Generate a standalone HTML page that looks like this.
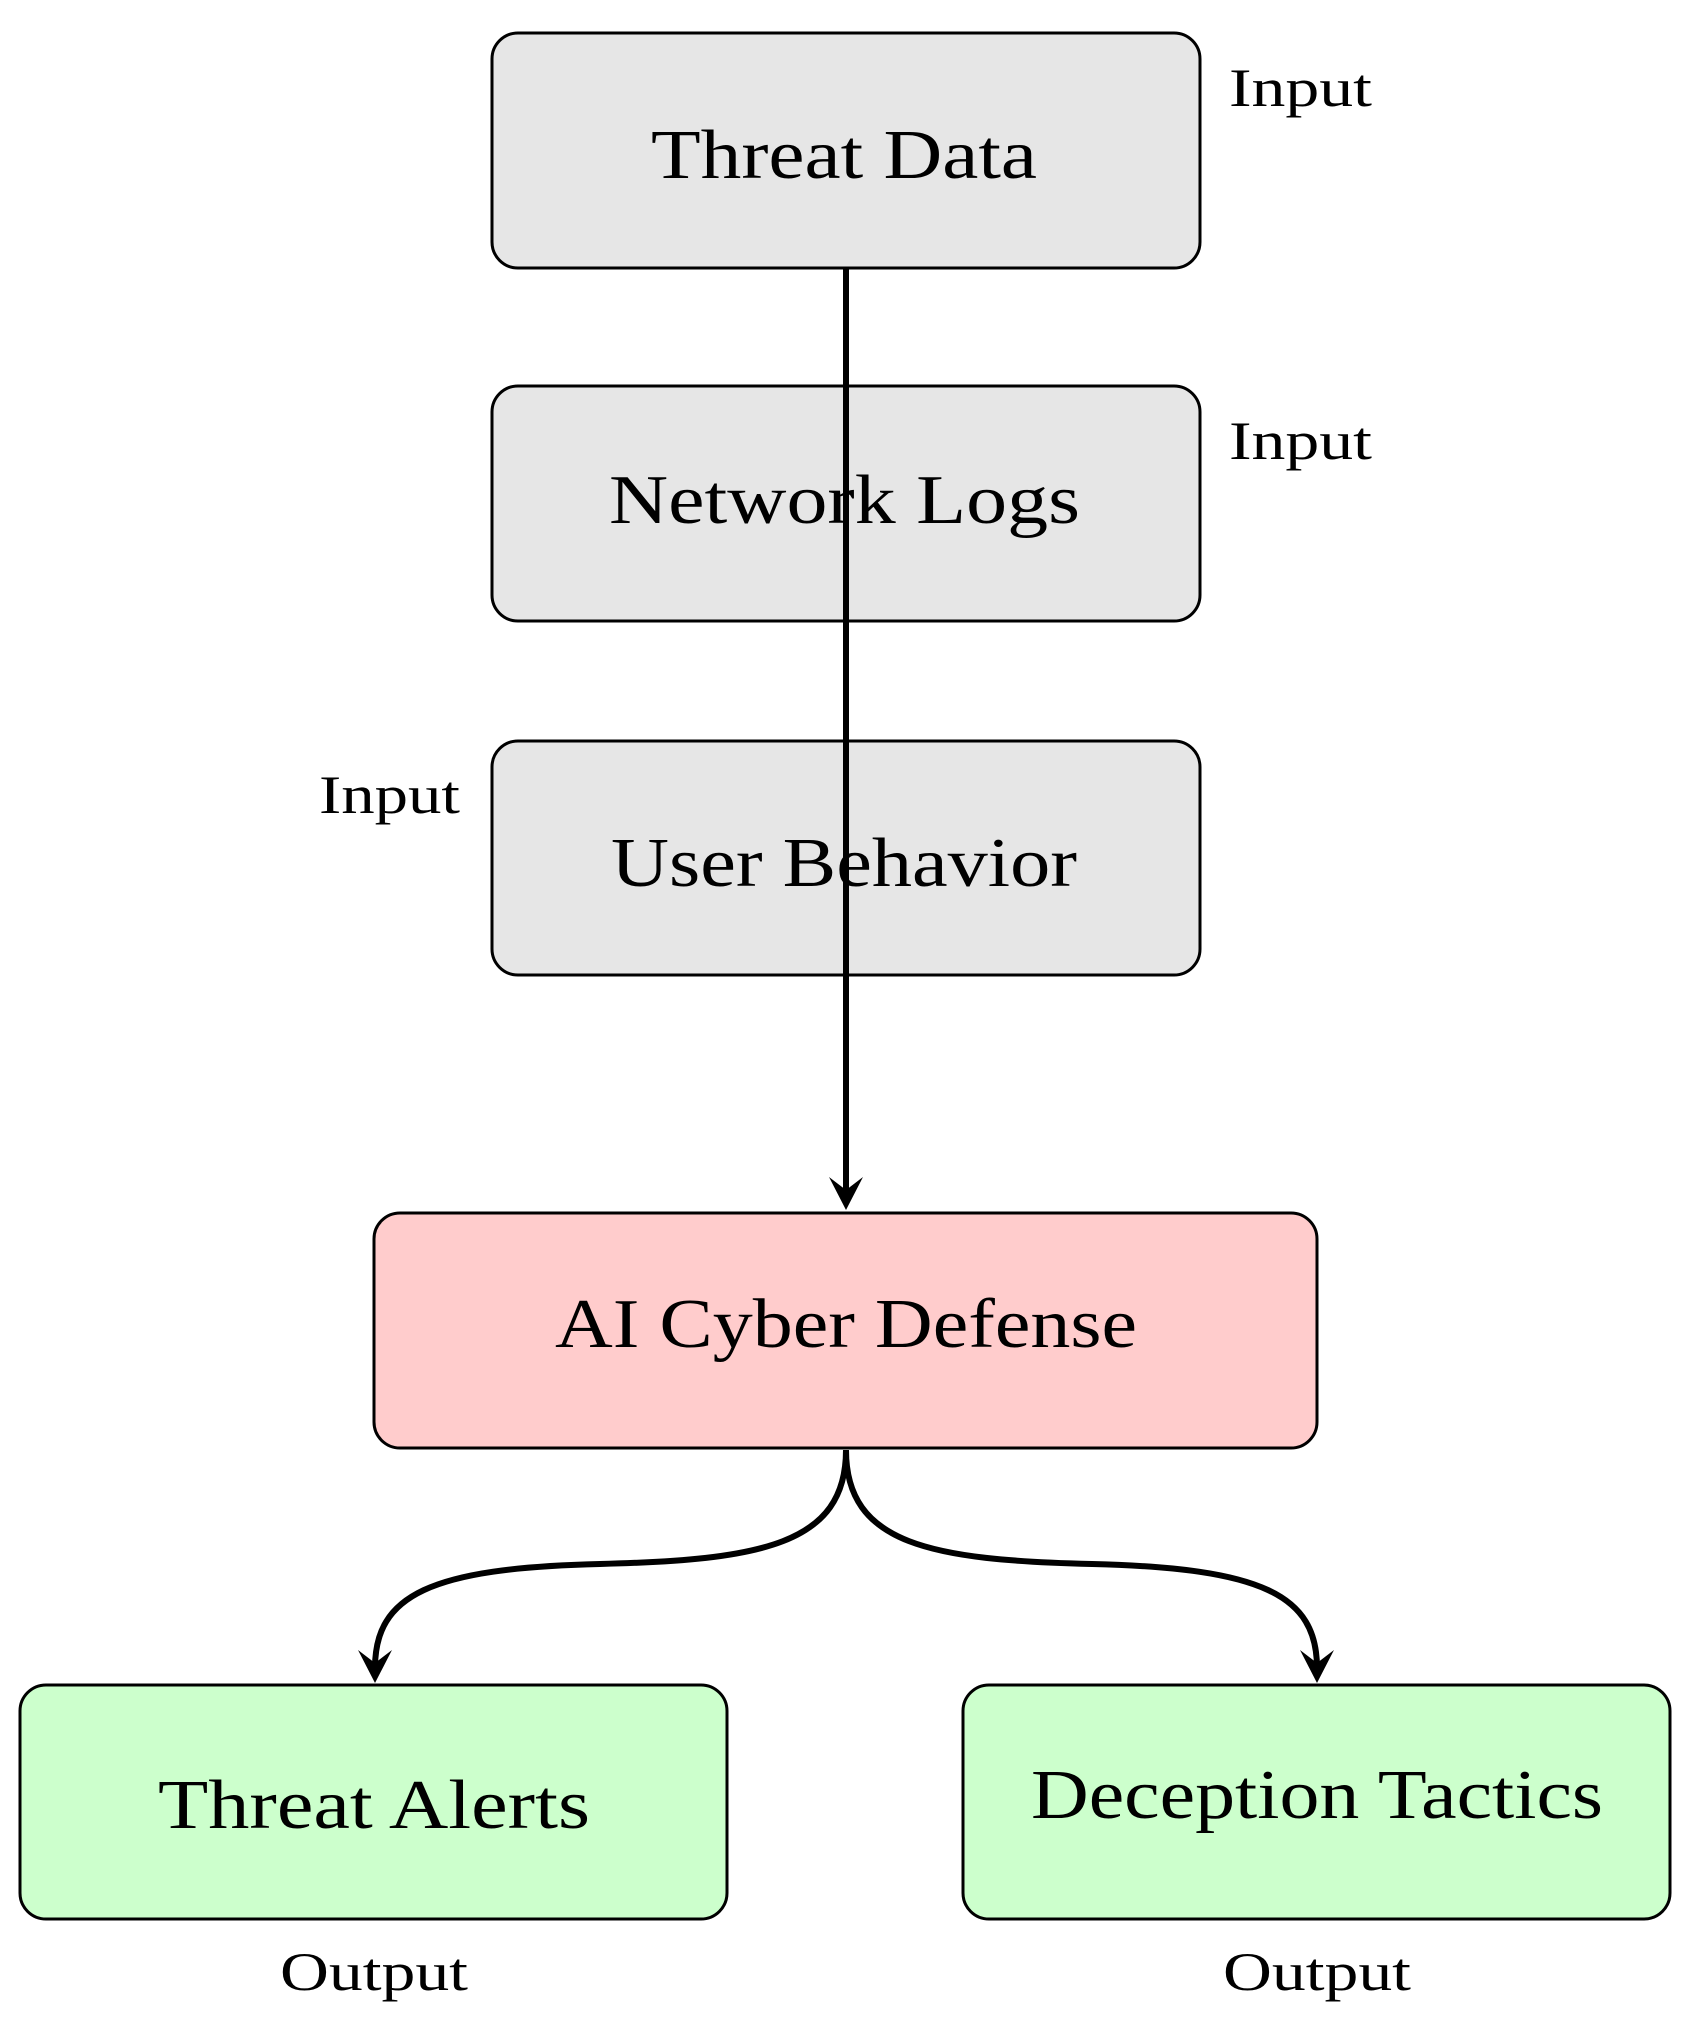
<!DOCTYPE html>
<html><head><meta charset="utf-8"><style>
html,body{margin:0;padding:0;background:#fff;}
svg{display:block;}
text{font-family:"Liberation Serif",serif;fill:#000;}
</style></head><body>
<svg width="1692" height="2037" viewBox="0 0 1692 2037" xmlns="http://www.w3.org/2000/svg">
<defs>
<marker id="ah" markerWidth="12" markerHeight="12" refX="9" refY="6" orient="auto" markerUnits="userSpaceOnUse" viewBox="0 0 12 12">
</marker>
</defs>
<g stroke="#000" stroke-width="3">
<rect x="492" y="33" width="708" height="235" rx="26" fill="#e6e6e6"/>
<rect x="492" y="386" width="708" height="235" rx="26" fill="#e6e6e6"/>
<rect x="492" y="741" width="708" height="234" rx="26" fill="#e6e6e6"/>
<rect x="374" y="1213" width="943" height="235" rx="26" fill="#ffcccc"/>
<rect x="20" y="1685" width="707" height="234" rx="26" fill="#ccffcc"/>
<rect x="963" y="1685" width="707" height="234" rx="26" fill="#ccffcc"/>
</g>
<g font-size="70">
<text x="651" y="178" textLength="386" lengthAdjust="spacingAndGlyphs">Threat Data</text>
<text x="609" y="523" textLength="471" lengthAdjust="spacingAndGlyphs">Network Logs</text>
<text x="611" y="886" textLength="466" lengthAdjust="spacingAndGlyphs">User Behavior</text>
<text x="555" y="1347" textLength="582" lengthAdjust="spacingAndGlyphs">AI Cyber Defense</text>
<text x="158" y="1828" textLength="432" lengthAdjust="spacingAndGlyphs">Threat Alerts</text>
<text x="1031" y="1818" textLength="572" lengthAdjust="spacingAndGlyphs">Deception Tactics</text>
</g>
<g font-size="54">
<text x="1229" y="106" textLength="143" lengthAdjust="spacingAndGlyphs">Input</text>
<text x="1229" y="459" textLength="143" lengthAdjust="spacingAndGlyphs">Input</text>
<text x="319" y="813" textLength="141" lengthAdjust="spacingAndGlyphs">Input</text>
<text x="280" y="1990" textLength="188" lengthAdjust="spacingAndGlyphs">Output</text>
<text x="1223" y="1990" textLength="188" lengthAdjust="spacingAndGlyphs">Output</text>
</g>
<g fill="none" stroke="#000" stroke-width="6">
<line x1="846" y1="268" x2="846" y2="1195"/>
<path d="M846,1450 C846,1545 760,1560 600,1564 C430,1568 375,1595 375,1668"/>
<path d="M846,1450 C846,1545 932,1560 1092,1564 C1262,1568 1317,1595 1317,1668"/>
</g>
<g fill="#000">
<path d="M829,1177 L846,1210 L863,1177 L846,1190 Z"/>
<path d="M358,1650 L375,1683 L392,1650 L375,1663 Z"/>
<path d="M1300,1650 L1317,1683 L1334,1650 L1317,1663 Z"/>
</g>
</svg>
</body></html>
